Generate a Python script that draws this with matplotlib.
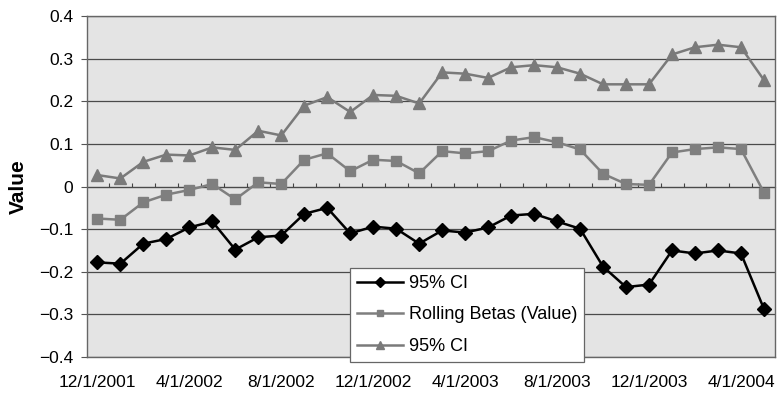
import matplotlib.pyplot as plt
import numpy as np

plt.rcParams['font.family'] = ['Liberation Sans', 'DejaVu Sans']

# monthly observations, 12/1/2001 .. 5/1/2004
months = ['12/1/2001', '1/1/2002', '2/1/2002', '3/1/2002', '4/1/2002', '5/1/2002',
          '6/1/2002', '7/1/2002', '8/1/2002', '9/1/2002', '10/1/2002', '11/1/2002',
          '12/1/2002', '1/1/2003', '2/1/2003', '3/1/2003', '4/1/2003', '5/1/2003',
          '6/1/2003', '7/1/2003', '8/1/2003', '9/1/2003', '10/1/2003', '11/1/2003',
          '12/1/2003', '1/1/2004', '2/1/2004', '3/1/2004', '4/1/2004', '5/1/2004']

lower_ci = [-0.178, -0.181, -0.134, -0.123, -0.096, -0.082, -0.148, -0.119, -0.115, -0.064,
            -0.050, -0.110, -0.094, -0.099, -0.134, -0.103, -0.108, -0.096, -0.068, -0.064,
            -0.082, -0.099, -0.188, -0.236, -0.230, -0.150, -0.157, -0.150, -0.157, -0.287]
betas = [-0.075, -0.078, -0.037, -0.019, -0.008, 0.006, -0.030, 0.010, 0.006, 0.063,
         0.078, 0.036, 0.063, 0.060, 0.031, 0.083, 0.078, 0.083, 0.108, 0.116,
         0.104, 0.087, 0.030, 0.006, 0.004, 0.080, 0.088, 0.092, 0.088, -0.014]
upper_ci = [0.027, 0.019, 0.058, 0.075, 0.073, 0.092, 0.086, 0.131, 0.120, 0.190,
            0.210, 0.175, 0.215, 0.213, 0.195, 0.268, 0.265, 0.255, 0.280, 0.285,
            0.280, 0.265, 0.240, 0.240, 0.240, 0.310, 0.327, 0.333, 0.327, 0.250]

x = np.arange(len(months))

fig = plt.figure(figsize=(7.77, 3.94), dpi=100)
ax = fig.add_axes([0.112, 0.094, 0.886, 0.865])
ax.set_facecolor('#e4e4e4')

ax.plot(x, lower_ci, color='black', lw=1.8, marker='D', ms=7, label='95% CI')
ax.plot(x, betas, color='#7f7f7f', lw=1.8, marker='s', ms=6.5, label='Rolling Betas (Value)')
ax.plot(x, upper_ci, color='#7a7a7a', lw=1.8, marker='^', ms=8, label='95% CI')

ax.set_xlim(-0.45, 29.5)
ax.set_ylim(-0.4, 0.4)
ax.set_yticks(np.arange(-0.4, 0.41, 0.1))
ax.set_yticklabels(['\u22120.4', '\u22120.3', '\u22120.2', '\u22120.1', '0', '0.1', '0.2', '0.3', '0.4'])
ax.yaxis.grid(True, color='#4a4a4a', lw=0.9)
ax.set_axisbelow(True)

ax.set_xticks(x[::4])
ax.set_xticklabels(months[::4])
ax.tick_params(axis='x', length=0, pad=13, labelsize=12.5)
ax.tick_params(axis='y', length=4, pad=6, labelsize=12.5, color='#555555')

# category axis drawn through zero, ticks between categories
sec = ax.secondary_xaxis(0.5)
sec.set_xticks(x[:-1] + 0.5)
sec.set_xticklabels([])
sec.tick_params(length=3, color='#444444', width=0.8)
sec.spines['bottom'].set_color('#555555')

for s in ax.spines.values():
    s.set_color('#666666')
    s.set_linewidth(1.0)

ax.set_ylabel('Value', fontsize=15, fontweight='bold', labelpad=8)

leg = ax.legend(loc='lower left', bbox_to_anchor=(0.382, -0.015), borderaxespad=0,
                fontsize=13, frameon=True, fancybox=False, framealpha=1, edgecolor='#666666',
                handlelength=2.55, borderpad=0.4, labelspacing=0.8, handletextpad=0.3,
                markerscale=0.75)
leg.get_frame().set_linewidth(0.9)

fig.savefig('out.png', dpi=100)
